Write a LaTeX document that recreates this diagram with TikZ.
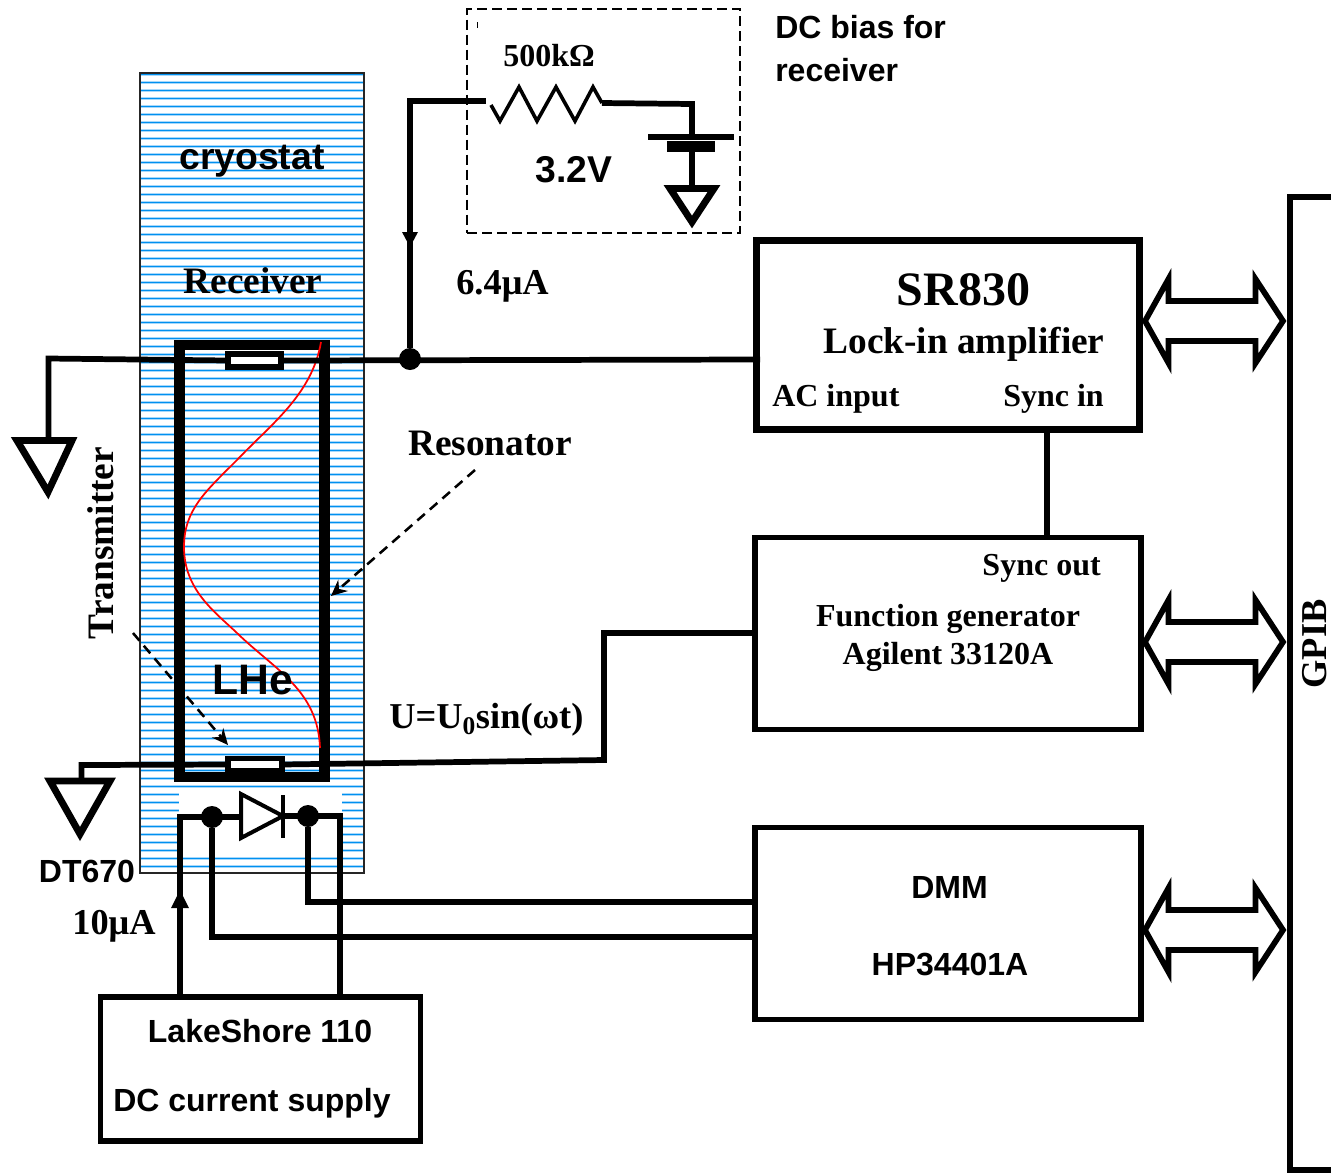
\documentclass[tikz,border=0pt]{standalone}
\usepackage{fontspec}
\setmainfont{Liberation Serif}
\newfontfamily\sansb{Liberation Sans}
\usetikzlibrary{arrows.meta}
\definecolor{stripedark}{HTML}{0090F0}
\definecolor{stripelight}{HTML}{A8D8FA}
\tikzset{
  x=0.75pt,y=-0.75pt,
  wire/.style={draw=black,line width=4.3pt,line join=miter},
  thinwire/.style={draw=black,line width=3pt},
  box/.style={draw=black,fill=white,inner sep=0pt,outer sep=0pt,shape=rectangle},
  dot/.style={circle,fill=black,inner sep=0pt,outer sep=0pt,minimum size=16.5pt},
  gnd/.style={draw=black,fill=white,line width=5.2pt,line join=miter,miter limit=10},
  dasharrow/.style={draw=black,line width=1.9pt,dash pattern=on 7.5pt off 5pt,-{Stealth[length=12pt,width=11pt,inset=4pt]}},
  serifl/.style={font=\bfseries\fontsize{28}{30}\selectfont,inner sep=0pt},
  serifm/.style={font=\bfseries\fontsize{24}{26}\selectfont,inner sep=0pt},
  serifk/.style={font=\bfseries\fontsize{27.3}{29}\selectfont,inner sep=0pt},
  sansm/.style={font=\sansb\bfseries\fontsize{24}{26}\selectfont,inner sep=0pt},
  sansl/.style={font=\sansb\bfseries\fontsize{28}{30}\selectfont,inner sep=0pt},
  bus/.style={draw=black,fill=white,line width=4.3pt,miter limit=10},
}
\begin{document}
\begin{tikzpicture}
\useasboundingbox (0,0) rectangle (1331,1172);
% cryostat stripes
\foreach \n in {0,...,99}{
  \pgfmathsetmacro{\yy}{74+8*\n}
  \fill[stripelight] (141,\yy-1) rectangle (363,\yy+2.4);
  \fill[stripedark] (141,\yy-0.5) rectangle (363,\yy+1.2);
}
\fill[white] (179,792) rectangle (342,852);
\node[draw=black!85,line width=2pt,inner sep=0pt,outer sep=0pt,minimum width=168pt,minimum height=600pt] (cryo) at (252,473) {};
% red standing wave and resonator
\node[draw=black,line width=8pt,inner sep=0pt,outer sep=0pt,minimum width=108.5pt,minimum height=324pt] (reson) at (252,561) {};
\draw[red,line width=1.3pt] (321,342) .. controls (312,395) and (270,425) .. (237,460) .. controls (205,492) and (184,510) .. (184,547) .. controls (184,590) and (215,612) .. (237,633) .. controls (275,670) and (318,690) .. (320,748);
% resistors on the resonator
\node[box,line width=4.2pt,minimum width=40pt,minimum height=9.75pt] (recvr) at (254.5,360.5) {};
\node[box,line width=4.2pt,minimum width=40.5pt,minimum height=9pt] (trans) at (255,764.5) {};
% instrument boxes
\node[box,line width=5.4pt,minimum width=287pt,minimum height=142pt] (sr) at (948,335) {};
\node[box,line width=3.9pt,minimum width=289.5pt,minimum height=143.5pt] (fg) at (948,633.5) {};
\node[box,line width=3.9pt,minimum width=289.5pt,minimum height=143.5pt] (dmm) at (948,923.5) {};
\node[box,line width=3.9pt,minimum width=240.5pt,minimum height=108pt] (ls) at (260.5,1069) {};
\node[draw=black,dash pattern=on 7.5pt off 3.75pt,line width=1.75pt,inner sep=0pt,outer sep=0pt,minimum width=204.5pt,minimum height=168pt] (dcbox) at (603.5,121) {};
% named points
\coordinate (gndR) at (48.5,358.5);
\coordinate (acin) at (760,359.5);
\coordinate (node) at (410,359);
\coordinate (rtop) at (410,101);
\coordinate (rstub) at (486,101);
\coordinate (rend) at (602,103);
\coordinate (bat) at (692,104);
\coordinate (gndT) at (81.5,765);
\coordinate (tr2) at (604,760);
\coordinate (tr3) at (604,633);
\coordinate (la) at (180,817);
\coordinate (lb) at (340,816);
\coordinate (da) at (212,817);
\coordinate (db) at (308,816);
% receiver wiring
\draw[wire] (48.5,441) -- (gndR) -- (recvr.west);
\draw[wire] (recvr.east) -- (acin);
\node[dot] (j1) at (node) {};
\draw[wire] (j1) -- (rtop) -- (rstub);
\fill[black] (402,232) -- (418,232) -- (410,247) -- cycle;
% bias circuit
\draw[black,line width=2.7pt,line join=miter] (491,105) -- (500,121) -- (519,87) -- (537,121) -- (556,87) -- (575,121) -- (593,87) -- (rend);
\draw[wire] (rend) -- (bat) -- (692,137);
\draw[wire] (648,137) -- (734,137);
\fill[black] (667,141) rectangle (715,152);
\draw[wire] (692,152) -- (692,186);
\draw[gnd] (670,188.5) -- (714,188.5) -- (692,222) -- cycle;
\draw[black,line width=0.6pt] (477,22) -- (477,28);
% grounds
\draw[gnd] (17,440.5) -- (72,440.5) -- (48,492) -- cycle;
\draw[wire] (81.5,781) -- (gndT) -- (trans.west);
\draw[gnd] (50,781) -- (110,781) -- (80,834) -- cycle;
% transmitter wiring
\draw[wire] (trans.east) -- (tr2) -- (tr3) -- (fg.west|-tr3);
% sync
\draw[wire] (1047,433) -- (1047,536);
% diode
\draw[wire] (180,996) -- (la) -- (245,817);
\draw[wire] (283,816) -- (lb) -- (340,996);
\draw[thinwire,line join=miter,fill=white] (241,794) -- (283,816) -- (241,838) -- cycle;
\draw[thinwire] (283,795) -- (283,838);
\node[dot] (j2) at (da) {};
\node[dot] (j3) at (db) {};
\draw[wire] (j2) -- (212,937) -- (dmm.west|-{(0,937)});
\draw[wire] (j3) -- (308,902) -- (dmm.west|-{(0,902)});
\fill[black] (171,908) -- (189,908) -- (180,890) -- cycle;
% dashed pointers
\draw[dasharrow] (475,470) -- (331,596);
\draw[dasharrow] (133,633) -- (228,745);
% GPIB bus
\draw[black,line width=4.5pt,line join=miter] (1331,197) -- (1290,197) -- (1290,1170) -- (1331,1170);
\foreach \d in {0,321,609}{
  \draw[bus] (1145,321+\d) -- (1168.5,279+\d) -- (1168.5,301+\d) -- (1255.5,301+\d) -- (1255.5,279+\d) -- (1283,321+\d) -- (1255.5,363+\d) -- (1255.5,341+\d) -- (1168.5,341+\d) -- (1168.5,363+\d) -- cycle;
}
% labels
\node[sansl] (t1) at (252,161) {cryostat};
\node[serifl] (t2) at (253,281) {Receiver};
\node[sansl,font=\sansb\bfseries\fontsize{32}{34}\selectfont] (t3) at (252.5,680) {LHe};
\node[serifm] (t4) at (549,56) {500kΩ};
\node[sansl] (t5) at (574,170) {3.2V};
\node[sansm,anchor=west] (t6) at (775,27) {DC bias for};
\node[sansm,anchor=west] (t7) at (775,70) {receiver};
\node[serifk] (t8) at (502.5,286) {6.4μA};
\node[serifl] (t9) at (490,443) {Resonator};
\node[serifl,rotate=90] (t10) at (101,543) {Transmitter};
\node[serifk,anchor=west] (t11) at (389,720) {U=U\textsubscript{0}sin(ωt)};
\node[font=\bfseries\fontsize{36}{38}\selectfont,inner sep=0pt] (t12) at (963.5,290) {SR830};
\node[serifl] (t13) at (964,344) {Lock-in amplifier};
\node[serifm,anchor=west] (t14) at (772,399) {AC input};
\node[serifm,anchor=east] (t15) at (1104,399) {Sync in};
\node[serifm,anchor=east] (t16) at (1101,568) {Sync out};
\node[serifm] (t17) at (948,619) {Function generator};
\node[serifm] (t18) at (948,657) {Agilent 33120A};
\node[sansm] (t19) at (949.5,887) {DMM};
\node[sansm] (t20) at (950,964) {HP34401A};
\node[sansm] (t21) at (260,1031) {LakeShore 110};
\node[sansm] (t22) at (252,1103) {DC current supply};
\node[sansm] (t23) at (87,871) {DT670};
\node[serifk] (t24) at (114,926) {10μA};
\node[serifk,rotate=90] (t25) at (1315,644) {GPIB};
\end{tikzpicture}
\end{document}
